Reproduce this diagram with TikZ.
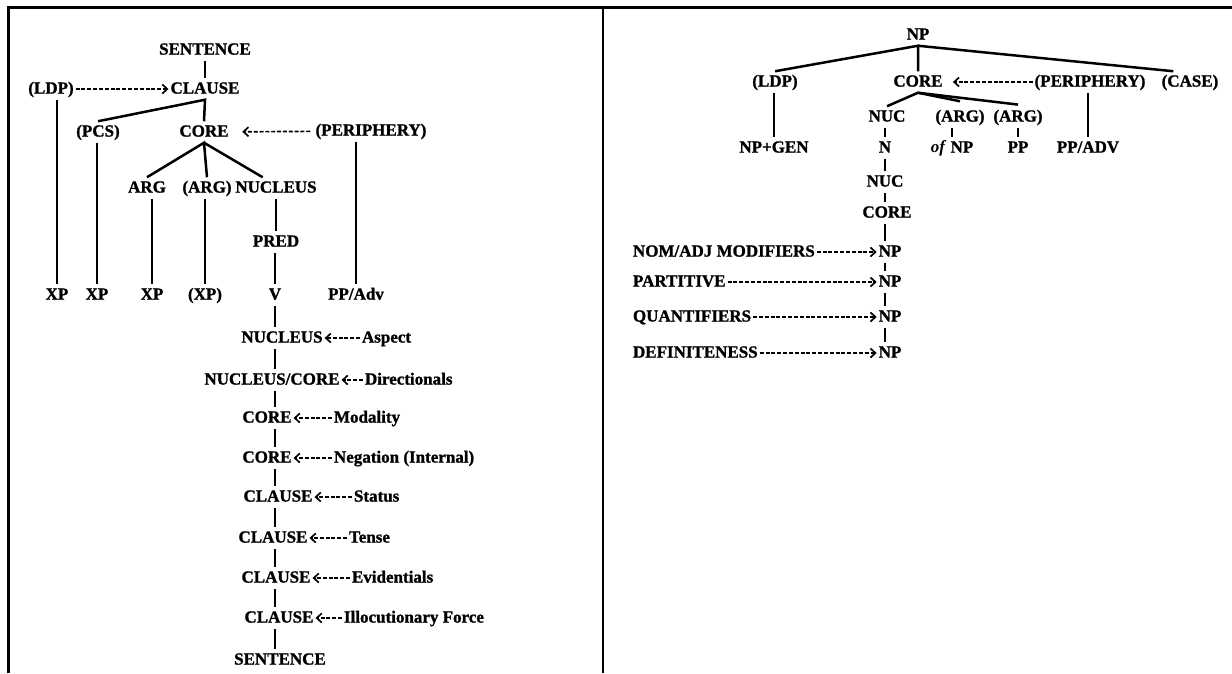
\documentclass[tikz,border=0pt]{standalone}
\usepackage{fontspec}
\setmainfont{Liberation Serif}[BoldFeatures={FakeBold=1.2}]
\usetikzlibrary{
  arrows.meta,
  positioning,
  calc
}
\definecolor{inkcolor}{RGB}{0, 0, 0}
\definecolor{rulecolor}{RGB}{0, 0, 0}
\tikzset{
cattext/.style={
  font=\fontsize{10.2}{12}\selectfont\bfseries,
  text=inkcolor,
  inner xsep=1pt,
  inner ysep=2pt,
  text height=7pt,
  text depth=1.5pt
},
optext/.style={
  cattext,
  anchor=west
},
treeline/.style={
  draw=inkcolor,
  line width=1.5pt
},
oparrow/.style={
  draw=inkcolor,
  line width=1pt,
  dash pattern=on 2.4pt off 1.1pt,
  -{Straight Barb[length=3pt,width=5.5pt,line width=1pt]}
},
framerule/.style={
  draw=rulecolor,
  line width=1.5pt
}
}

\begin{document}
\begin{tikzpicture}[x=0.6pt,y=-0.6pt]
  \useasboundingbox (0,0) rectangle (1232,673);
  % frame
  \draw[framerule] (8.5,673) -- (8.5,7.5) -- (1232,7.5);
  \draw[framerule] (603,7.5) -- (603,673);

  % left panel: clause
  \node[cattext] (sent) at (205,50) {SENTENCE};
  \node[cattext] (ldp) at (51,89) {(LDP)};
  \node[cattext] (clause) at (205,89) {CLAUSE};
  \node[cattext] (pcs) at (98,132) {(PCS)};
  \node[cattext] (core) at (204,132) {CORE};
  \node[cattext] (periph) at (371,131) {(PERIPHERY)};
  \node[cattext] (arg) at (147,188) {ARG};
  \node[cattext] (oarg) at (207,188) {(ARG)};
  \node[cattext] (nucleus) at (276,188) {NUCLEUS};
  \node[cattext] (pred) at (276,242) {PRED};
  \node[cattext] (xpa) at (57,295) {XP};
  \node[cattext] (xpb) at (97,295) {XP};
  \node[cattext] (xpc) at (152,295) {XP};
  \node[cattext] (xpd) at (205,295) {(XP)};
  \node[cattext] (verb) at (275,295) {V};
  \node[cattext] (ppadv) at (356,295) {PP/Adv};

  \draw[treeline] (sent) -- (clause);
  \draw[oparrow] (ldp) -- (clause);
  \draw[treeline] (pcs.north) -- (clause.south) -- (core.north);
  \draw[oparrow, shorten >=7pt, shorten <=2pt] (periph) -- (core);
  \draw[treeline] (arg.north) -- (core.south) -- (oarg.north);
  \draw[treeline] (core.south) -- ([xshift=-8pt]nucleus.north);
  \draw[treeline] (ldp.south -| xpa) -- (xpa.north);
  \draw[treeline] (pcs.south -| xpb) -- (xpb.north);
  \draw[treeline] (arg.south -| xpc) -- (xpc.north);
  \draw[treeline] (oarg.south -| xpd) -- (xpd.north);
  \draw[treeline] (nucleus.south -| pred) -- (pred.north);
  \draw[treeline] (pred.south -| verb) -- (verb.north);
  \draw[treeline] (periph.south -| ppadv) -- (ppadv.north);

  % left panel: operators
  \node[cattext] (nuca) at (282,338) {NUCLEUS};
  \node[optext] (aspect) at (360,338) {Aspect};
  \node[cattext] (nuccore) at (272,380) {NUCLEUS/CORE};
  \node[optext] (direct) at (363,380) {Directionals};
  \node[cattext] (corea) at (267,418) {CORE};
  \node[optext] (modal) at (332,418) {Modality};
  \node[cattext] (coreb) at (267,458) {CORE};
  \node[optext] (negint) at (332,458) {Negation (Internal)};
  \node[cattext] (clausea) at (278,497) {CLAUSE};
  \node[optext] (status) at (352,497) {Status};
  \node[cattext] (clauseb) at (273,538) {CLAUSE};
  \node[optext] (tense) at (347,538) {Tense};
  \node[cattext] (clausec) at (276,578) {CLAUSE};
  \node[optext] (evid) at (350,578) {Evidentials};
  \node[cattext] (claused) at (279,618) {CLAUSE};
  \node[optext] (illoc) at (342,618) {Illocutionary Force};
  \node[cattext] (senta) at (280,660) {SENTENCE};

  \draw[treeline] (verb.south) -- (verb.south |- nuca.north);
  \draw[treeline] (nuca.south -| verb) -- (nuccore.north -| verb);
  \draw[treeline] (nuccore.south -| verb) -- (corea.north -| verb);
  \draw[treeline] (corea.south -| verb) -- (coreb.north -| verb);
  \draw[treeline] (coreb.south -| verb) -- (clausea.north -| verb);
  \draw[treeline] (clausea.south -| verb) -- (clauseb.north -| verb);
  \draw[treeline] (clauseb.south -| verb) -- (clausec.north -| verb);
  \draw[treeline] (clausec.south -| verb) -- (claused.north -| verb);
  \draw[treeline] (claused.south -| verb) -- (senta.north -| verb);

  \draw[oparrow] (aspect.west) -- (nuca.east);
  \draw[oparrow] (direct.west) -- (nuccore.east);
  \draw[oparrow] (modal.west) -- (corea.east);
  \draw[oparrow] (negint.west) -- (coreb.east);
  \draw[oparrow] (status.west) -- (clausea.east);
  \draw[oparrow] (tense.west) -- (clauseb.east);
  \draw[oparrow] (evid.west) -- (clausec.east);
  \draw[oparrow] (illoc.west) -- (claused.east);

  % right panel: noun phrase
  \node[cattext] (np) at (918,35) {NP};
  \node[cattext] (rldp) at (775,82) {(LDP)};
  \node[cattext] (rcore) at (918,82) {CORE};
  \node[cattext] (rperiph) at (1090,82) {(PERIPHERY)};
  \node[cattext] (rcase) at (1190,82) {(CASE)};
  \node[cattext] (nuc) at (887,117) {NUC};
  \node[cattext] (rarga) at (960,117) {(ARG)};
  \node[cattext] (rargb) at (1018,117) {(ARG)};
  \node[cattext] (npgen) at (774,148) {NP+GEN};
  \node[cattext] (noun) at (885,148) {N};
  \node[cattext] (ofnp) at (952,148) {\textit{of} NP};
  \node[cattext] (pp) at (1018,148) {PP};
  \node[cattext] (ppadvr) at (1088,148) {PP/ADV};
  \node[cattext] (nucr) at (885,182) {NUC};
  \node[cattext] (corer) at (887,213) {CORE};

  \draw[treeline] (rldp.north) -- (np.south) -- (rcore.north);
  \draw[treeline] (np.south) -- ([xshift=-10pt]rcase.north);
  \draw[oparrow, shorten >=5pt] (rperiph) -- (rcore);
  \draw[treeline] (nuc.north) -- (rcore.south) -- ([yshift=3pt]rarga.north);
  \draw[treeline] (rcore.south) -- ([yshift=1pt]rargb.north);
  \draw[treeline] (rldp.south -| npgen) -- (npgen.north);
  \draw[treeline] (nuc.south -| noun) -- (noun.north);
  \draw[treeline] (rarga.south -| ofnp) -- (ofnp.north);
  \draw[treeline] (rargb.south) -- (pp.north);
  \draw[treeline] (rperiph.south -| ppadvr) -- (ppadvr.north);
  \draw[treeline] (noun.south) -- (nucr.north);
  \draw[treeline] (nucr.south) -- (corer.north -| nucr);

  % right panel: operators
  \node[cattext] (npa) at (890,252) {NP};
  \node[optext] (nomadj) at (631,252) {NOM/ADJ MODIFIERS};
  \node[cattext] (npb) at (890,282) {NP};
  \node[optext] (partit) at (631,282) {PARTITIVE};
  \node[cattext] (npc) at (890,317) {NP};
  \node[optext] (quant) at (631,317) {QUANTIFIERS};
  \node[cattext] (npd) at (890,353) {NP};
  \node[optext] (defin) at (631,353) {DEFINITENESS};

  \draw[treeline] (corer.south -| nucr) -- (npa.north -| nucr);
  \draw[treeline] (npa.south -| nucr) -- (npb.north -| nucr);
  \draw[treeline] (npb.south -| nucr) -- (npc.north -| nucr);
  \draw[treeline] (npc.south -| nucr) -- (npd.north -| nucr);

  \draw[oparrow] (nomadj.east) -- (npa.west);
  \draw[oparrow] (partit.east) -- (npb.west);
  \draw[oparrow] (quant.east) -- (npc.west);
  \draw[oparrow] (defin.east) -- (npd.west);
\end{tikzpicture}
\end{document}
